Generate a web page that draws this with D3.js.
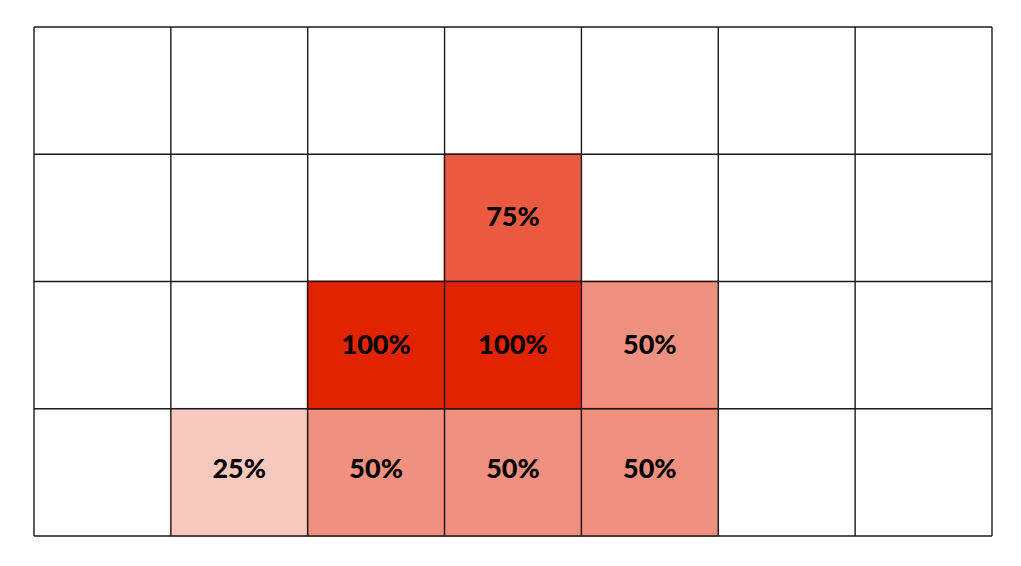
<!DOCTYPE html>
<html><head><meta charset="utf-8">
<script src="https://cdn.jsdelivr.net/npm/d3@7"></script>
<style>body{margin:0;background:#fff;} text{font-family:Lato,"Open Sans",sans-serif;font-weight:900;}</style>
</head><body>
<svg id="c" width="1021" height="566"></svg>
<script>
const columns = [0,1,2,3,4,5,6];
const rows = [0,1,2,3];
const cellCol = [3, 2, 3, 4, 1, 2, 3, 4];
const cellRow = [1, 2, 2, 2, 3, 3, 3, 3];
const cellValue = [75, 100, 100, 50, 25, 50, 50, 50];

const svg = d3.select("#c");
const x = d3.scaleBand().domain(columns).range([34, 992]).padding(0);
const y = d3.scaleBand().domain(rows).range([27, 536]).padding(0);
const op = d3.scaleLinear().domain([0,100]).range([0,1]);

const cells = cellValue.map((v,i)=>({c:cellCol[i], r:cellRow[i], v}));

svg.append("g").selectAll("rect").data(cells).join("rect")
  .attr("x", d=>x(d.c)-1).attr("y", d=>y(d.r)-1)
  .attr("width", x.bandwidth()+1).attr("height", y.bandwidth()+2)
  .attr("fill", "#e22300").attr("fill-opacity", d=>op(d.v));

const g = svg.append("g").attr("stroke","#1a1a1a").attr("stroke-width",1.4);
const xs = columns.map(c=>x(c)).concat([992]);
const ys = rows.map(r=>y(r)).concat([536]);
g.selectAll("line.v").data(xs).join("line").attr("class","v")
  .attr("x1",d=>d).attr("x2",d=>d).attr("y1",27).attr("y2",536);
g.selectAll("line.h").data(ys).join("line").attr("class","h")
  .attr("y1",d=>d).attr("y2",d=>d).attr("x1",34).attr("x2",992);

svg.append("g").selectAll("text").data(cells).join("text")
  .attr("x", d=>x(d.c)+x.bandwidth()/2)
  .attr("y", d=>y(d.r)+y.bandwidth()/2 - (d.r===3 ? 5 : 2))
  .attr("text-anchor","middle").attr("dominant-baseline","central")
  .attr("font-size", 27).attr("fill","#000")
  .text(d=>d.v+"%");
</script>
</body></html>
